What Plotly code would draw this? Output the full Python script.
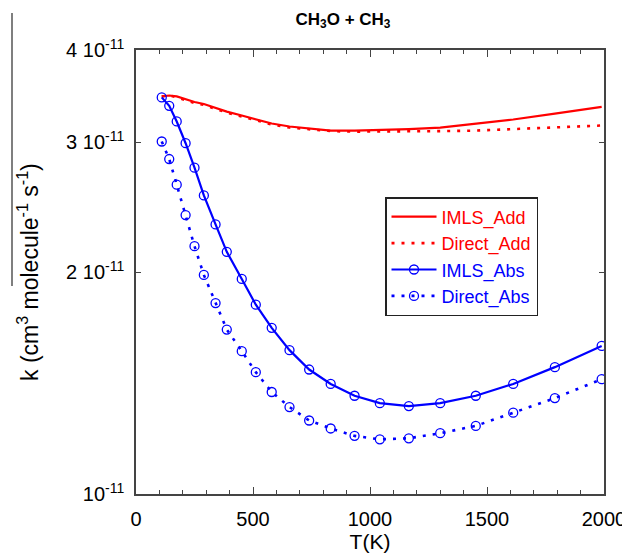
import plotly.graph_objects as go

# Temperatures (K) of the plotted points
T = [110, 142, 174, 212, 250, 290, 340, 388, 452, 512, 580, 656, 740, 832,
     934, 1042, 1166, 1300, 1452, 1612, 1790, 1990]

# Rate constants in units of 1e-11 cm^3 molecule^-1 s^-1
imls_add = [3.46, 3.47, 3.46, 3.43, 3.40, 3.38, 3.34, 3.30, 3.26, 3.22, 3.18,
            3.15, 3.13, 3.11, 3.11, 3.115, 3.125, 3.14, 3.18, 3.22, 3.28, 3.35]
direct_add = [3.46, 3.47, 3.45, 3.42, 3.39, 3.37, 3.33, 3.29, 3.25, 3.21, 3.17,
              3.14, 3.12, 3.105, 3.10, 3.10, 3.10, 3.105, 3.11, 3.125, 3.14, 3.16]
imls_abs = [3.45, 3.36, 3.20, 2.99, 2.77, 2.54, 2.32, 2.13, 1.957, 1.806, 1.680,
            1.567, 1.475, 1.410, 1.359, 1.328, 1.316, 1.328, 1.359, 1.410, 1.486, 1.588]
direct_abs = [3.006, 2.846, 2.627, 2.389, 2.168, 1.982, 1.815, 1.671, 1.562, 1.463,
              1.375, 1.312, 1.258, 1.227, 1.199, 1.186, 1.190, 1.209, 1.237, 1.289,
              1.349, 1.431]

y_tickvals = [1e-11, 2e-11, 3e-11, 4e-11]
y_ticktext = ["10<sup>-11</sup>", "2 10<sup>-11</sup>", "3 10<sup>-11</sup>", "4 10<sup>-11</sup>"]
x_tickvals = [0, 500, 1000, 1500, 2000]

RED = "#ff0000"
BLUE = "#0000ff"
FONT = "Liberation Sans, Arial, sans-serif"
DOT = "3px,7px"

# plot-area geometry in window pixels (page body has an 8px margin)
PX_L, PX_R, PX_T, PX_B = 136, 604, 50, 494
PW, PH = PX_R - PX_L, PX_B - PX_T
FIG_W, FIG_H = 622, 552


def scale(vals):
    return [v * 1e-11 for v in vals]


def px_x(x):
    return (x - PX_L) / PW


def px_y(y):
    return (PX_B - y) / PH


fig = go.Figure()
fig.add_trace(go.Scatter(x=T, y=scale(imls_add), mode="lines",
                         name=f"<span style='color:{RED}'>IMLS_Add</span>",
                         line=dict(color=RED, width=2.2)))
fig.add_trace(go.Scatter(x=T, y=scale(direct_add), mode="lines",
                         name=f"<span style='color:{RED}'>Direct_Add</span>",
                         line=dict(color=RED, width=2.6, dash=DOT)))
fig.add_trace(go.Scatter(x=T, y=scale(imls_abs), mode="lines+markers",
                         name=f"<span style='color:{BLUE}'>IMLS_Abs</span>",
                         line=dict(color=BLUE, width=2.2),
                         marker=dict(symbol="circle-open", size=9, color=BLUE,
                                     line=dict(width=1.3, color=BLUE))))
fig.add_trace(go.Scatter(x=T, y=scale(direct_abs), mode="lines+markers",
                         name=f"<span style='color:{BLUE}'>Direct_Abs</span>",
                         line=dict(color=BLUE, width=2.6, dash=DOT),
                         marker=dict(symbol="circle-open", size=9, color=BLUE,
                                     line=dict(width=1.3, color=BLUE))))

axis_common = dict(showline=True, mirror="ticks", linecolor="#444", linewidth=1.5,
                   ticks="inside", tickcolor="#444", tickwidth=1.2,
                   showgrid=False, zeroline=False, automargin=False,
                   ticklabeloverflow="allow",
                   tickfont=dict(family=FONT, size=20, color="black"))

fig.update_xaxes(range=[0, 2000], tickvals=x_tickvals, ticklen=7,
                 minor=dict(dtick=100, ticks="inside", ticklen=4, tickcolor="#444",
                            showgrid=False),
                 ticklabelstandoff=6,
                 title=dict(text="T(K)", font=dict(family=FONT, size=21, color="black"),
                            standoff=2),
                 **axis_common)
fig.update_yaxes(type="log", range=[-11, -10.39794], tickvals=y_tickvals,
                 ticktext=y_ticktext, ticklen=5, ticklabelstandoff=6,
                 **axis_common)

fig.add_annotation(text="k (cm<sup>3</sup> molecule<sup>-1</sup> s<sup>-1</sup>)",
                   textangle=-90, xref="paper", yref="paper",
                   x=px_x(28), y=px_y(272), xanchor="center", yanchor="middle",
                   showarrow=False, font=dict(family=FONT, size=23, color="black"))
fig.add_shape(type="line", xref="paper", yref="paper",
              x0=px_x(12), x1=px_x(12), y0=px_y(13), y1=px_y(286),
              line=dict(color="#555", width=1.5))

fig.update_layout(
    width=FIG_W, height=FIG_H,
    margin=dict(l=PX_L - 8, r=630 - PX_R, t=PX_T - 8, b=560 - PX_B),
    paper_bgcolor="white", plot_bgcolor="white",
    title=dict(text="<b>CH<sub>3</sub>O + CH<sub>3</sub></b>",
               xref="container", yref="container",
               x=(343 - 8) / FIG_W, y=1 - (5 - 8 + 8) / FIG_H,
               xanchor="center", yanchor="top",
               font=dict(family=FONT, size=17, color="black")),
    showlegend=True,
    legend=dict(x=px_x(385), y=px_y(197), xanchor="left", yanchor="top",
                bgcolor="white", bordercolor="#222", borderwidth=1.5,
                font=dict(family=FONT, size=18), tracegroupgap=0,
                itemwidth=45),
    font=dict(family=FONT, color="black"),
)

fig.write_html("out.html")
